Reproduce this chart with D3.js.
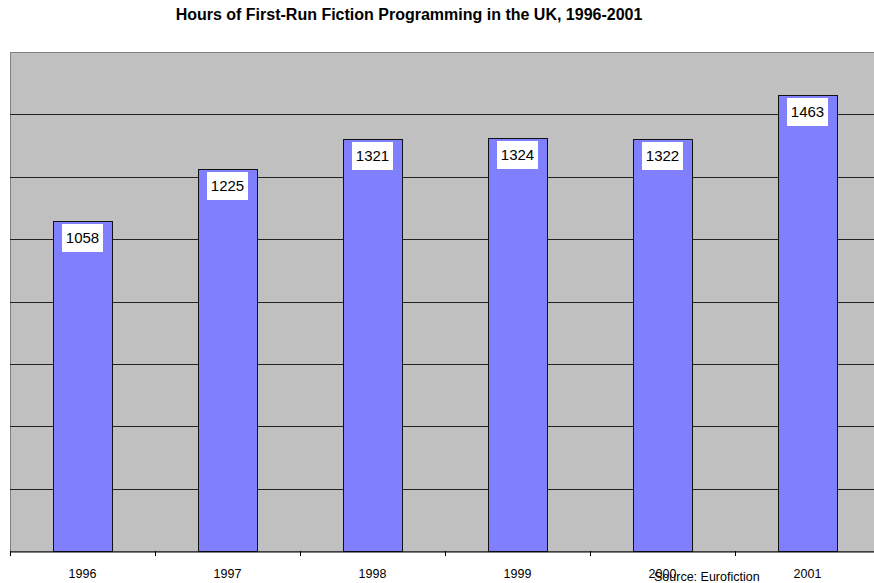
<!DOCTYPE html>
<html>
<head>
<meta charset="utf-8">
<script src="https://cdn.jsdelivr.net/npm/d3@7"></script>
<style>
  body { margin: 0; background: #fff; overflow: hidden; }
  svg { display: block; font-family: Arial, "Liberation Sans", sans-serif; }
</style>
</head>
<body>
<script>
"use strict"

const years = ['1996', '1997', '1998', '1999', '2000', '2001'];
const hours = [1058, 1225, 1321, 1324, 1322, 1463];
const gridValues = [200, 400, 600, 800, 1000, 1200, 1400, 1600];

const w = 874;
const h = 583;
const plotLeft = 10;
const plotRight = 880;
const plotTop = 52;
const plotBottom = 551;

const svg = d3.select('body')
	.append('svg')
	.attr('width', w)
	.attr('height', h);

const xScale = d3.scaleBand()
	.domain(years)
	.range([plotLeft, plotRight]);

const yScale = d3.scaleLinear()
	.domain([0, 1600])
	.range([plotBottom, plotTop]);

// plot background
svg.append('rect')
	.attr('x', plotLeft + 0.5)
	.attr('y', Math.round(yScale(1600)) + 0.5)
	.attr('width', plotRight - plotLeft)
	.attr('height', plotBottom - Math.round(yScale(1600)))
	.attr('fill', '#c0c0c0')
	.attr('stroke', '#808080')
	.attr('stroke-width', 1);

svg.append('g')
	.selectAll('line')
	.data(gridValues.slice(0, -1))
	.enter()
	.append('line')
	.attr('x1', plotLeft)
	.attr('x2', plotRight)
	.attr('y1', d => Math.round(yScale(d)) + 0.5)
	.attr('y2', d => Math.round(yScale(d)) + 0.5)
	.attr('stroke', '#222')
	.attr('stroke-width', 1);

const barW = xScale.bandwidth() * 0.405;

const bars = svg.selectAll('.bar')
	.data(years)
	.enter()
	.append('g')
	.attr('class', 'bar');

bars.append('rect')
	.attr('x', d => Math.round(xScale(d) + (xScale.bandwidth() - barW) / 2) + 0.5)
	.attr('y', (d, i) => Math.round(yScale(hours[i])) + 0.5)
	.attr('width', Math.round(barW))
	.attr('height', (d, i) => plotBottom - Math.round(yScale(hours[i])))
	.attr('fill', '#8080ff')
	.attr('stroke', '#111')
	.attr('stroke-width', 1);

bars.append('rect')
	.attr('x', d => Math.round(xScale(d) + xScale.bandwidth() / 2 - 20.5))
	.attr('y', (d, i) => Math.round(yScale(hours[i])) + 3)
	.attr('width', 41)
	.attr('height', 28)
	.attr('fill', '#fff');

bars.append('text')
	.attr('x', d => xScale(d) + xScale.bandwidth() / 2)
	.attr('y', (d, i) => yScale(hours[i]) + 22)
	.attr('text-anchor', 'middle')
	.attr('font-size', '15px')
	.attr('fill', '#000')
	.text((d, i) => hours[i]);

// x axis
const xAxis = d3.axisBottom(xScale)
	.tickSize(0)
	.tickPadding(18);

const gx = svg.append('g')
	.attr('transform', 'translate(0,' + (plotBottom + 0.5) + ')')
	.call(xAxis);
gx.select('.domain').attr('stroke', '#000');
gx.selectAll('text')
	.attr('font-size', '12.5px')
	.attr('font-family', 'Arial, "Liberation Sans", sans-serif')
	.attr('fill', '#000');

svg.append('g')
	.selectAll('line')
	.data(years)
	.enter()
	.append('line')
	.attr('x1', d => Math.round(xScale(d)) + 0.5)
	.attr('x2', d => Math.round(xScale(d)) + 0.5)
	.attr('y1', plotBottom)
	.attr('y2', plotBottom + 5)
	.attr('stroke', '#000');

svg.append('text')
	.attr('x', 409)
	.attr('y', 20)
	.attr('text-anchor', 'middle')
	.attr('font-size', '16px')
	.attr('font-weight', 'bold')
	.text('Hours of First-Run Fiction Programming in the UK, 1996-2001');

svg.append('text')
	.attr('x', 654)
	.attr('y', 581)
	.attr('font-size', '12.5px')
	.text('Source: Eurofiction');
</script>
</body>
</html>
